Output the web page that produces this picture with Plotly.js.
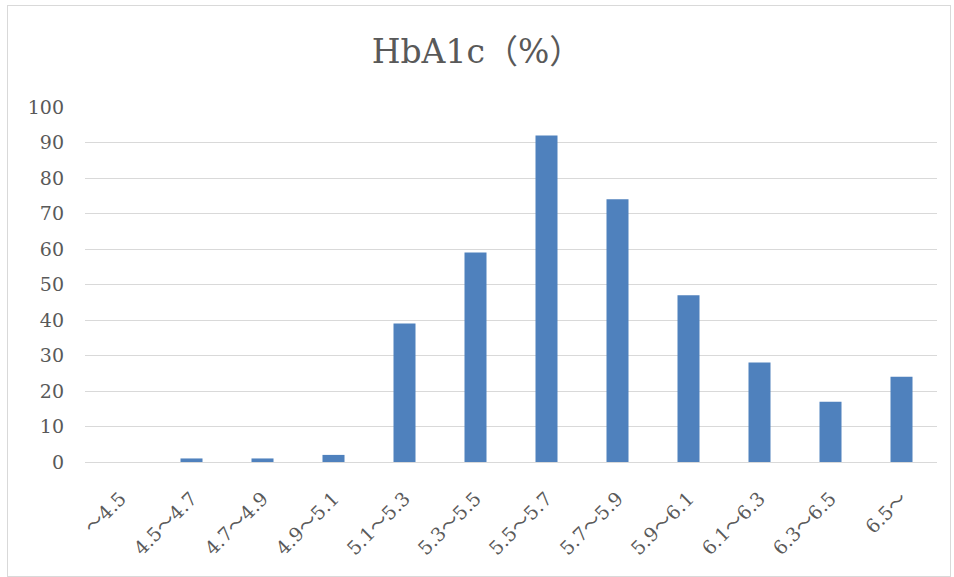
<!DOCTYPE html>
<html>
<head>
<meta charset="utf-8">
<script src="https://cdn.plot.ly/plotly-3.0.1.min.js"></script>
<style>
html,body{margin:0;padding:0;background:#fff;}
#wrap{position:relative;width:954px;height:577px;}
#chart{width:954px;height:577px;}
#border{position:absolute;left:7px;top:5px;width:942px;height:570px;border:1px solid #d9d9d9;pointer-events:none;}
</style>
</head>
<body>
<div id="wrap"><div id="chart"></div><div id="border"></div></div>
<script>
const categories = ["〜4.5","4.5〜4.7","4.7〜4.9","4.9〜5.1","5.1〜5.3","5.3〜5.5","5.5〜5.7","5.7〜5.9","5.9〜6.1","6.1〜6.3","6.3〜6.5","6.5〜"];
const counts = [0, 1, 1, 2, 39, 59, 92, 74, 47, 28, 17, 24];
const yTicks = [0,10,20,30,40,50,60,70,80,90,100];

const fontFam = 'DejaVu Serif, Liberation Serif, Noto Sans CJK JP, serif';

Plotly.newPlot('chart', [{
  type: 'bar',
  x: categories,
  y: counts,
  marker: {color: '#4f81bd'},
  hoverinfo: 'x+y'
}], {
  width: 954, height: 577,
  margin: {l: 85, r: 17, t: 107, b: 115},
  paper_bgcolor: '#fff', plot_bgcolor: '#fff',
  bargap: 0.69,
  title: {text: 'HbA1c（%）', font: {family: fontFam, size: 33, color: '#595959'}, x: 0.5, xanchor: 'center', y: 0.91, yanchor: 'middle'},
  xaxis: {
    type: 'category',
    tickangle: -45,
    tickfont: {family: fontFam, size: 19, color: '#595959'},
    showline: true, linecolor: '#d9d9d9', linewidth: 1,
    ticks: '', showgrid: false, zeroline: false,
    ticklabelstandoff: 17
  },
  yaxis: {
    range: [0, 100],
    tickvals: yTicks,
    tickfont: {family: fontFam, size: 19, color: '#595959'},
    showgrid: true, gridcolor: '#d9d9d9', gridwidth: 1,
    zeroline: false, showline: false, ticks: '', ticklen: 0,
    ticklabelstandoff: 20
  },
  showlegend: false,
  font: {family: fontFam}
}, {displayModeBar: false, staticPlot: true});
</script>
</body>
</html>
